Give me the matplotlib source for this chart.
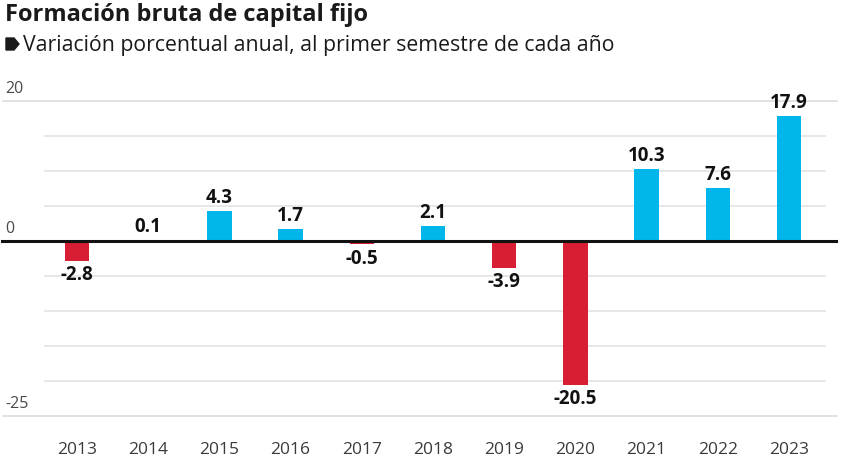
import matplotlib
matplotlib.use("Agg")
import matplotlib.pyplot as plt
from matplotlib.patches import Polygon

# Datos
anios = ["2013", "2014", "2015", "2016", "2017", "2018", "2019", "2020", "2021", "2022", "2023"]
valores = [-2.8, 0.1, 4.3, 1.7, -0.5, 2.1, -3.9, -20.5, 10.3, 7.6, 17.9]
etiquetas_y = [20, 0, -25]
grid_y = [15, 10, 5, -5, -10, -15, -20]

AZUL = "#00B6EB"
ROJO = "#D81E34"
FUENTE = "Open Sans"

W, H = 861, 475
fig = plt.figure(figsize=(W / 100, H / 100), dpi=100)

# ejes que ocupan todo el ancho; la escala x se ajusta para ubicar las barras
x0_px, paso_px = 77, 71.2
def px_a_x(px):
    return (px - x0_px) / paso_px

y_cero_px, px_por_unidad = 241, 7.0
top_px, bot_px = 60, 470
ax = fig.add_axes([0, 1 - bot_px / H, 1, (bot_px - top_px) / H])
ax.set_xlim(px_a_x(0), px_a_x(W))
ax.set_ylim(-(bot_px - y_cero_px) / px_por_unidad, (y_cero_px - top_px) / px_por_unidad)
ax.axis("off")

# lineas de la cuadricula
for g in grid_y:
    ax.plot([px_a_x(45), px_a_x(825)], [g, g], color="#e3e3e3", lw=1.2, zorder=0)
for g in (20, -25):
    ax.plot([px_a_x(3), px_a_x(837)], [g, g], color="#dcdcdc", lw=1.2, zorder=0)
ax.plot([px_a_x(2), px_a_x(836)], [0, 0], color="#111111", lw=2.2, zorder=3)

# barras
xs = list(range(len(anios)))
colores = [AZUL if v >= 0 else ROJO for v in valores]
ax.bar(xs, valores, width=0.34, color=colores, zorder=2)

for x, v in zip(xs, valores):
    if v >= 0:
        ax.text(x, v + 0.4, f"{v:.1f}", ha="center", va="bottom", fontsize=13.5,
                fontweight="bold", family=FUENTE, color="#111111")
    else:
        ax.text(x, v - 0.6, f"{v:.1f}", ha="center", va="top", fontsize=13.5,
                fontweight="bold", family=FUENTE, color="#111111")
    ax.text(x, -29.8, anios[x], ha="center", va="center", fontsize=12.5,
            family=FUENTE, color="#3a3a3a")

# etiquetas del eje y
for e in etiquetas_y:
    ax.text(px_a_x(5), e + 0.6, str(e), ha="left", va="bottom", fontsize=11.5,
            family=FUENTE, color="#4a4a4a")

# titulo y subtitulo
fig.text(5 / W, 1 - 15 / H, "Formación bruta de capital fijo", ha="left", va="center",
         fontsize=17, fontweight="bold", family=FUENTE, color="#1a1a1a")
fig.text(23 / W, 1 - 45 / H, "Variación porcentual anual, al primer semestre de cada año",
         ha="left", va="center", fontsize=15.3, family=FUENTE, color="#1a1a1a")

# marcador del subtitulo
pts = [(6, 38), (14, 38), (19, 44), (14, 50), (6, 50)]
fig.patches.append(Polygon([(x / W, 1 - y / H) for x, y in pts], closed=True,
                           transform=fig.transFigure, color="#1a1a1a"))

fig.savefig("out.png", dpi=100)
